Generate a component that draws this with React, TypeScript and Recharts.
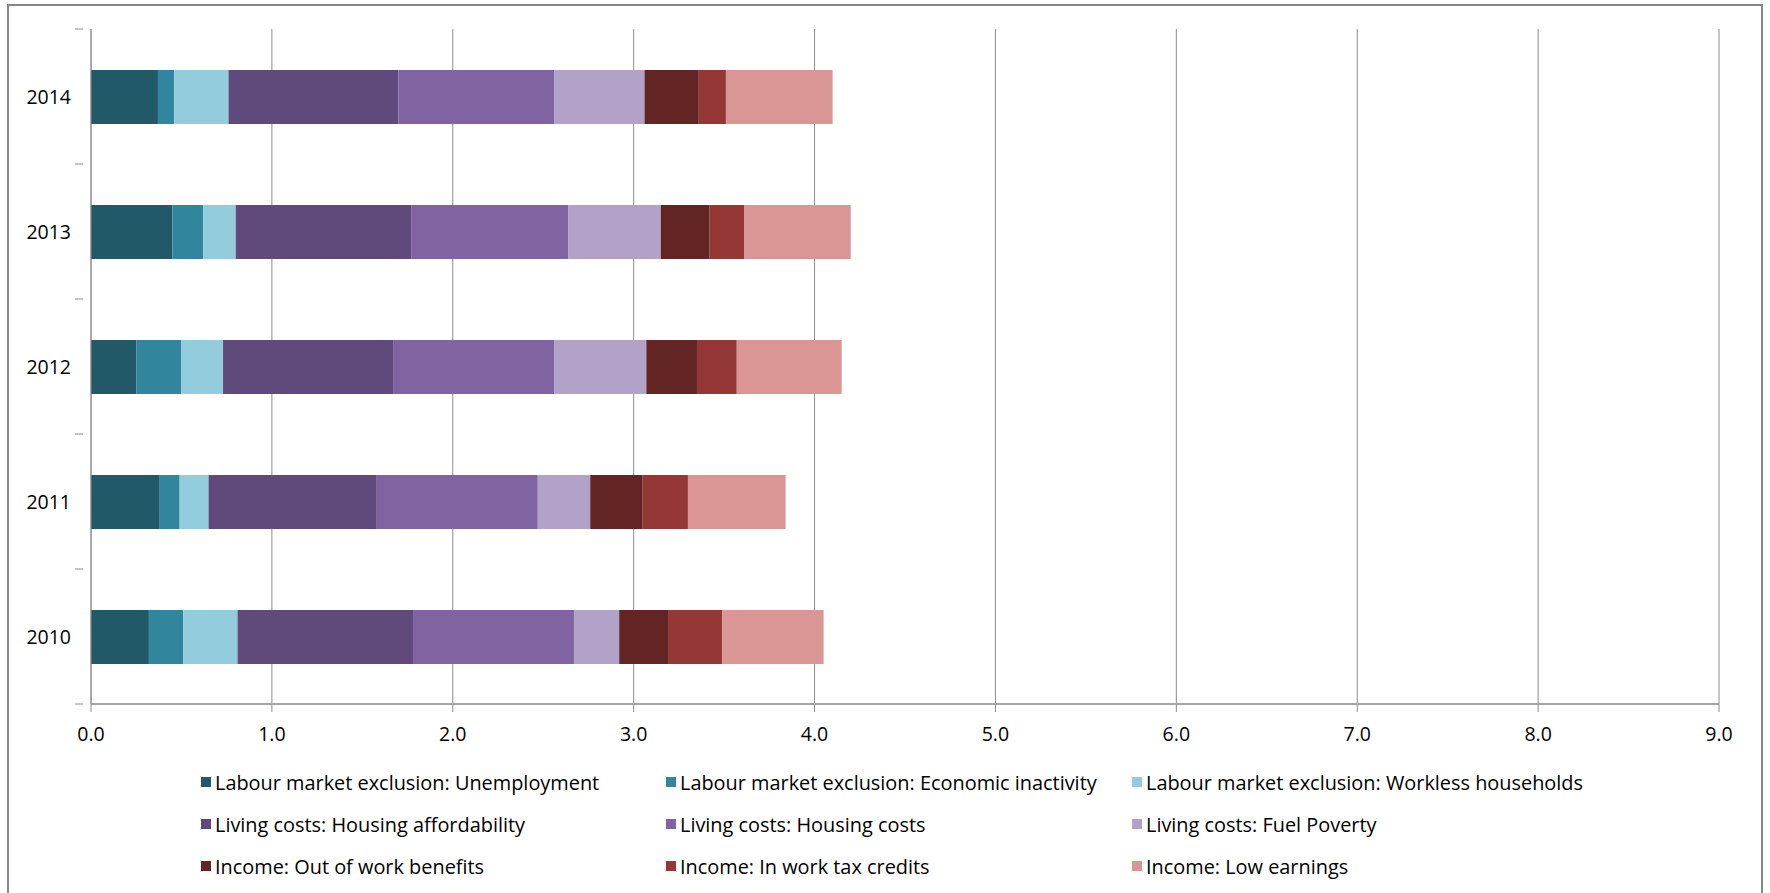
import { BarChart, Bar, XAxis, YAxis, CartesianGrid } from "recharts";

// deprivation index components by year
const years = ["2010", "2011", "2012", "2013", "2014"];

const unemployment = [0.32, 0.38, 0.25, 0.45, 0.37];
const economicInactivity = [0.19, 0.11, 0.25, 0.17, 0.09];
const worklessHouseholds = [0.30, 0.16, 0.23, 0.18, 0.30];
const housingAffordability = [0.97, 0.93, 0.94, 0.97, 0.94];
const housingCosts = [0.89, 0.89, 0.89, 0.87, 0.86];
const fuelPoverty = [0.25, 0.29, 0.51, 0.51, 0.50];
const outOfWorkBenefits = [0.27, 0.29, 0.28, 0.27, 0.30];
const inWorkTaxCredits = [0.30, 0.25, 0.22, 0.19, 0.15];
const lowEarnings = [0.56, 0.54, 0.58, 0.59, 0.59];

const xTicks = [0, 1, 2, 3, 4, 5, 6, 7, 8, 9];

const series = [
  { key: "unemployment", name: "Labour market exclusion: Unemployment", color: "#215968", values: unemployment },
  { key: "economicInactivity", name: "Labour market exclusion: Economic inactivity", color: "#31859c", values: economicInactivity },
  { key: "worklessHouseholds", name: "Labour market exclusion: Workless households", color: "#93cddd", values: worklessHouseholds },
  { key: "housingAffordability", name: "Living costs: Housing affordability", color: "#604a7b", values: housingAffordability },
  { key: "housingCosts", name: "Living costs: Housing costs", color: "#8064a2", values: housingCosts },
  { key: "fuelPoverty", name: "Living costs: Fuel Poverty", color: "#b3a2c7", values: fuelPoverty },
  { key: "outOfWorkBenefits", name: "Income: Out of work benefits", color: "#632523", values: outOfWorkBenefits },
  { key: "inWorkTaxCredits", name: "Income: In work tax credits", color: "#953735", values: inWorkTaxCredits },
  { key: "lowEarnings", name: "Income: Low earnings", color: "#d99694", values: lowEarnings },
];

const data = years.map((year, i) => {
  const row: Record<string, string | number> = { year };
  series.forEach((s) => {
    row[s.key] = s.values[i];
  });
  return row;
});

const FONT = "'Open Sans', sans-serif";
const FS = 19.5;
const PLOT_TOP = 29;
const PLOT_BOTTOM = 704;
const BAND = (PLOT_BOTTOM - PLOT_TOP) / years.length;

const YTick = (props: any) => {
  const { x, y, payload, index } = props;
  return (
    <g>
      <text x={x - 12} y={y} dy="0.4em" textAnchor="end" fontSize={FS} fontFamily={FONT} fill="#000">
        {payload.value}
      </text>
      <line x1={x - 8} x2={x} y1={y - BAND / 2} y2={y - BAND / 2} stroke="#8c8c8c" />
      {index === 0 && <line x1={x - 8} x2={x} y1={y + BAND / 2} y2={y + BAND / 2} stroke="#8c8c8c" />}
    </g>
  );
};

const legendCols = [201, 666, 1132];
const legendRows = [782, 824, 866];

export default function App() {
  return (
    <div style={{ position: "absolute", left: 0, top: 0, width: 1770, height: 893, overflow: "hidden", background: "#fff" }}>
      <div
        style={{
          position: "absolute",
          left: 7,
          top: 4,
          width: 1752,
          height: 900,
          border: "2px solid #878787",
        }}
      />
      <div style={{ position: "absolute", left: 0, top: 0 }}>
        <BarChart
          width={1770}
          height={893}
          data={data}
          layout="vertical"
          margin={{ top: PLOT_TOP, right: 51, left: 0, bottom: 893 - PLOT_BOTTOM - 40 }}
          barSize={54}
        >
          <CartesianGrid horizontal={false} stroke="#8c8c8c" />
          <XAxis
            type="number"
            domain={[0, 9]}
            ticks={xTicks}
            interval={0}
            height={40}
            tickFormatter={(v: number) => v.toFixed(1)}
            tick={{ fontSize: FS, fontFamily: FONT, fill: "#000" }}
            tickSize={8}
            tickMargin={15}
            stroke="#8c8c8c"
            axisLine={{ stroke: "#a6a6a6", strokeWidth: 2 }}
          />
          <YAxis
            type="category"
            dataKey="year"
            reversed
            width={91}
            tickLine={false}
            axisLine={{ stroke: "#8c8c8c" }}
            tick={<YTick />}
          />
          {series.map((s) => (
            <Bar key={s.key} dataKey={s.key} name={s.name} stackId="a" fill={s.color} isAnimationActive={false} />
          ))}
        </BarChart>
      </div>
      {series.map((s, i) => (
        <div
          key={s.key}
          style={{
            position: "absolute",
            left: legendCols[i % 3],
            top: legendRows[Math.floor(i / 3)] - 13,
            height: 26,
            display: "flex",
            alignItems: "center",
            fontFamily: FONT,
            fontSize: 19.9,
            color: "#000",
            whiteSpace: "nowrap",
          }}
        >
          <span style={{ display: "inline-block", width: 10, height: 10, background: s.color, marginRight: 4 }} />
          {s.name}
        </div>
      ))}
    </div>
  );
}
